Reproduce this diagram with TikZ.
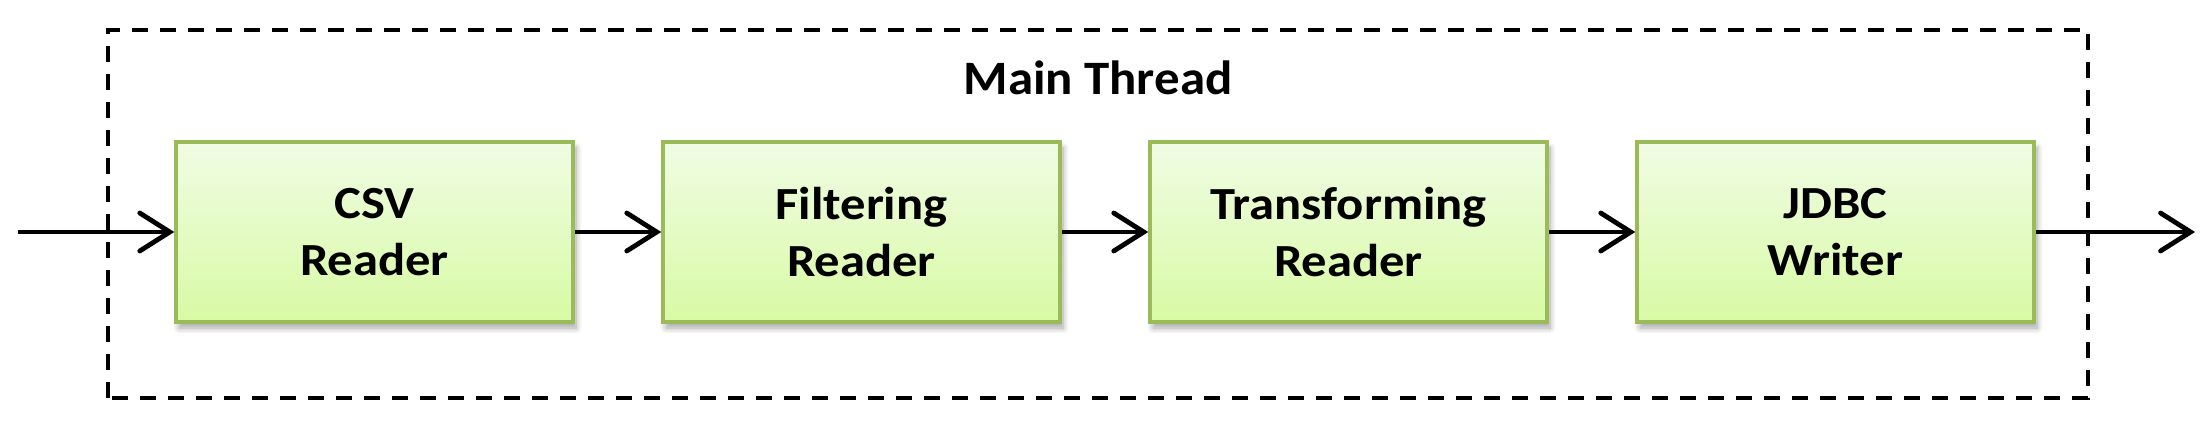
\documentclass[tikz,border=0pt]{standalone}
\usepackage{fontspec}
\setmainfont{Carlito}
\usetikzlibrary{arrows.meta,shadows.blur}
\definecolor{boxborder}{RGB}{155,187,89}
\definecolor{boxtop}{RGB}{240,252,228}
\definecolor{boxbot}{RGB}{216,250,164}
\newcommand{\widetext}[1]{\scalebox{1.1}[1]{#1}}
\tikzset{
  stagebox/.style={draw=boxborder, line width=3.5pt, top color=boxtop, bottom color=boxbot,
    minimum width=397pt, minimum height=180pt, inner sep=0pt, align=center,
    font=\fontsize{46}{57}\selectfont\bfseries,
    blur shadow={shadow xshift=3pt, shadow yshift=-6pt, shadow blur steps=8, shadow blur radius=6pt, shadow opacity=35}},
  flow/.style={line width=4.8pt, -{Straight Barb[length=30pt,width=38pt,line cap=round]}},
  threadbox/.style={draw, line width=4pt, dash pattern=on 16pt off 12pt},
  titletext/.style={font=\fontsize{48}{58}\selectfont\bfseries, inner sep=0pt}
}
\begin{document}
\begin{tikzpicture}[x=1pt,y=1pt]
\useasboundingbox (0,0) rectangle (2207,429);
\draw[threadbox] (108,31) rectangle (2088,399);
\node[titletext, anchor=base] (title) at (1098,334) {\scalebox{1.06}[1]{Main Thread}};
\coordinate (in) at (18,197);
\coordinate (out) at (2195,197);
\node[stagebox] (csv) at (374.5,197) {\widetext{CSV}\\\widetext{Reader}};
\node[stagebox] (filt) at (861.5,197) {\widetext{Filtering}\\\widetext{Reader}};
\node[stagebox] (trans) at (1348.5,197) {\widetext{Transforming}\\\widetext{Reader}};
\node[stagebox] (jdbc) at (1835.5,197) {\widetext{JDBC}\\\widetext{Writer}};
\draw[flow] (in) -- (csv.west);
\draw[flow] (csv.east) -- (filt.west);
\draw[flow] (filt.east) -- (trans.west);
\draw[flow] (trans.east) -- (jdbc.west);
\draw[flow] (jdbc.east) -- (out);
\end{tikzpicture}
\end{document}
